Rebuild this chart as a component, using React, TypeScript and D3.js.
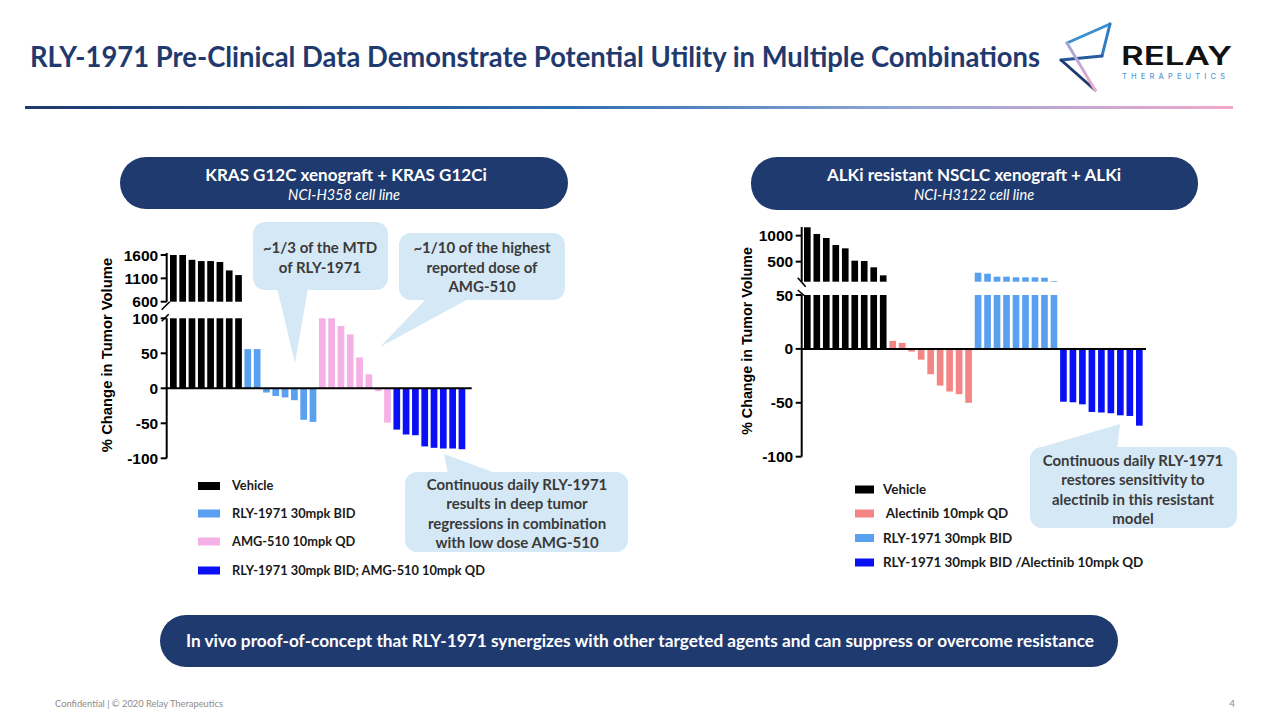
import React from 'react';
import * as d3 from 'd3';

// ---------- DATA ----------
const leftGroups = ['Vehicle', 'RLY-1971 30mpk BID', 'AMG-510 10mpk QD', 'RLY-1971 30mpk BID; AMG-510 10mpk QD'];
const leftVehicle = [1600, 1600, 1497, 1470, 1470, 1450, 1270, 1170];
const leftRly = [56, 56, -6, -11, -13, -17, -45, -48];
const leftAmg = [100, 100, 89, 77, 44, 20, -4, -49];
const leftCombo = [-59, -66, -67, -83, -85, -86, -86, -87];
const leftLowerTicks = [-100, -50, 0, 50, 100];
const leftUpperTicks = [600, 1100, 1600];

const rightGroups = ['Vehicle', ' Alectinib 10mpk QD', 'RLY-1971 30mpk BID', 'RLY-1971 30mpk BID /Alectinib 10mpk QD'];
const rightVehicle = [1160, 1032, 955, 820, 756, 519, 513, 391, 237];
const rightAlectinib = [7.4, 5.6, -2.5, -10, -23.5, -34, -39.5, -42, -50];
const rightRly = [288, 269, 212, 212, 199, 199, 199, 192, 128];
const rightCombo = [-49, -49.5, -51.4, -58.5, -59, -59.7, -61.6, -62.2, -71.2];
const rightLowerTicks = [-100, -50, 0, 50];
const rightUpperTicks = [500, 1000];

const leftColors = ['#000000', '#5AA0F0', '#F5B0E6', '#0A10F5'];
const rightColors = ['#000000', '#F48585', '#5AA0F0', '#0A10F5'];

const NAVY = '#1F3A6E';
const BUBBLE = '#D5E8F6';
const AXIS_FONT = '"Liberation Sans", Arial, sans-serif';
const TEXT_FONT = 'Lato, "Open Sans", sans-serif';

type ChartProps = {
  series: number[][];
  colors: string[];
  xRange: [number, number];
  padding: number;
  axisX: number;
  zeroEnd: number;
  lowerDomain: [number, number];
  lowerRange: [number, number];
  upperDomain: [number, number];
  upperRange: [number, number];
  upperTop: number;
  lowerTicks: number[];
  upperTicks: number[];
  breakDir: 1 | -1;
};

function BrokenChart(p: ChartProps) {
  const bars: { v: number; c: string }[] = [];
  p.series.forEach((s, i) => s.forEach((v) => bars.push({ v, c: p.colors[i] })));
  const x = d3.scaleBand<number>().domain(d3.range(bars.length)).range(p.xRange).padding(p.padding);
  const yL = d3.scaleLinear().domain(p.lowerDomain).range(p.lowerRange);
  const yU = d3.scaleLinear().domain(p.upperDomain).range(p.upperRange);
  const [lo, hi] = p.lowerDomain;
  const [ulo, uhi] = p.upperDomain;
  const ax = p.axisX;
  const yUb = yU(ulo);
  const yLt = yL(hi);
  const d = p.breakDir;
  return (
    <g>
      {bars.map((b, i) => {
        const vc = Math.max(lo, Math.min(hi, b.v));
        const y0 = yL(0);
        const y1 = yL(vc);
        const els = [
          <rect key={'l' + i} x={x(i)} width={x.bandwidth()} y={Math.min(y0, y1)} height={Math.abs(y1 - y0)} fill={b.c} />,
        ];
        if (b.v > ulo) {
          const yt = yU(Math.min(b.v, uhi));
          els.push(<rect key={'u' + i} x={x(i)} width={x.bandwidth()} y={yt} height={yUb - yt} fill={b.c} />);
        }
        return els;
      })}
      <line x1={ax} x2={ax} y1={p.upperTop} y2={yUb} stroke="#000" strokeWidth={2} />
      <line x1={ax} x2={ax} y1={yLt} y2={yL(lo)} stroke="#000" strokeWidth={2} />
      <line x1={ax - 1} x2={p.zeroEnd} y1={yL(0)} y2={yL(0)} stroke="#000" strokeWidth={2} />
      {d === 1 ? (
        <g stroke="#000" strokeWidth={1.6}>
          <line x1={ax - 5} y1={yUb + 8} x2={ax + 3} y2={yUb} />
          <line x1={ax - 5} y1={yLt + 3} x2={ax + 2} y2={yLt - 4} />
        </g>
      ) : (
        <g stroke="#000" strokeWidth={1.6}>
          <line x1={ax - 4} y1={yUb - 4} x2={ax + 4} y2={yUb + 5} />
          <line x1={ax - 4} y1={yLt - 5} x2={ax + 3} y2={yLt + 1} />
        </g>
      )}
      {p.lowerTicks.map((t) => (
        <g key={'lt' + t}>
          <line x1={ax - 6} x2={ax} y1={yL(t)} y2={yL(t)} stroke="#000" strokeWidth={2} />
          <text x={ax - 8.5} y={yL(t)} dy="0.36em" textAnchor="end" fontFamily={AXIS_FONT} fontWeight="bold" fontSize={15.5}>
            {t}
          </text>
        </g>
      ))}
      {p.upperTicks.map((t) => (
        <g key={'ut' + t}>
          <line x1={ax - 6} x2={ax} y1={yU(t)} y2={yU(t)} stroke="#000" strokeWidth={2} />
          <text x={ax - 8.5} y={yU(t)} dy="0.36em" textAnchor="end" fontFamily={AXIS_FONT} fontWeight="bold" fontSize={15.5}>
            {t}
          </text>
        </g>
      ))}
    </g>
  );
}

function Bubble(props: { x: number; y: number; w: number; h: number; tail: [number, number][]; lines: string[]; cx: number; ys: number[] }) {
  return (
    <g>
      <rect x={props.x} y={props.y} width={props.w} height={props.h} rx={12} fill={BUBBLE} />
      <polygon points={props.tail.map((q) => q.join(',')).join(' ')} fill={BUBBLE} />
      {props.lines.map((l, i) => (
        <text key={i} x={props.cx} y={props.ys[i]} dy="0.35em" textAnchor="middle" fontFamily={TEXT_FONT} fontWeight="bold" fontSize={15} fill="#3A3A3A">
          {l}
        </text>
      ))}
    </g>
  );
}

function Legend(props: { labels: string[]; colors: string[]; sx: number; sw: number; tx: number; ys: number[]; fs: number }) {
  return (
    <g>
      {props.labels.map((l, i) => (
        <g key={i}>
          <rect x={props.sx} y={props.ys[i] - 4} width={props.sw} height={8} fill={props.colors[i]} />
          <text x={props.tx} y={props.ys[i]} dy="0.35em" fontFamily={TEXT_FONT} fontWeight="bold" fontSize={props.fs} fill="#1A1A1A" style={{ whiteSpace: 'pre' }}>
            {l}
          </text>
        </g>
      ))}
    </g>
  );
}

export default function App() {
  return (
    <svg width={1280} height={720} viewBox="0 0 1280 720" style={{ position: 'absolute', left: 0, top: 0, display: 'block', background: '#fff' }}>
      <defs>
        <linearGradient id="rule" x1="0" x2="1" y1="0" y2="0">
          <stop offset="0" stopColor="#1F3A6E" />
          <stop offset="0.45" stopColor="#2E6FB0" />
          <stop offset="0.72" stopColor="#8FA6D6" />
          <stop offset="1" stopColor="#F2A8CB" />
        </linearGradient>
        <linearGradient id="lg1" x1="0" x2="0" y1="0" y2="1">
          <stop offset="0" stopColor="#9FA8DA" />
          <stop offset="1" stopColor="#F4A9CC" />
        </linearGradient>
      </defs>

      <text x={30} y={67} fontFamily={TEXT_FONT} fontWeight="bold" fontSize={28} fill={NAVY} textLength={1010} lengthAdjust="spacingAndGlyphs">
        RLY-1971 Pre-Clinical Data Demonstrate Potential Utility in Multiple Combinations
      </text>
      <rect x={25} y={106} width={1208} height={3} fill="url(#rule)" />

      <g fill="none" strokeWidth={3} strokeLinecap="round" strokeLinejoin="round">
        <path d="M1110,24 L1067,43" stroke="#3A8FD0" />
        <path d="M1110,24 L1102,56" stroke="#2F7EC4" />
        <path d="M1102,56 L1061,60" stroke="#2A5A9E" />
        <path d="M1061,60 L1095,90" stroke="#1F3A6E" />
        <path d="M1067,43 L1095,90" stroke="url(#lg1)" />
      </g>
      <text x={1121} y={65} fontFamily="Inter, sans-serif" fontWeight={600} fontSize={26} fill="#111" textLength={111} lengthAdjust="spacingAndGlyphs">
        RELAY
      </text>
      <text x={1122} y={78.5} fontFamily="Inter, sans-serif" fontWeight={500} fontSize={7.5} fill="#5A9BD5" textLength={103} lengthAdjust="spacing">
        THERAPEUTICS
      </text>

      <rect x={120} y={157} width={448} height={52} rx={26} fill={NAVY} />
      <text x={346} y={181} textAnchor="middle" fontFamily={TEXT_FONT} fontWeight="bold" fontSize={17} fill="#fff">
        KRAS G12C xenograft + KRAS G12Ci
      </text>
      <text x={344} y={200} textAnchor="middle" fontFamily={TEXT_FONT} fontStyle="italic" fontSize={14.5} fill="#fff">
        NCI-H358 cell line
      </text>
      <rect x={751} y={157} width={447} height={53} rx={26} fill={NAVY} />
      <text x={974} y={181} textAnchor="middle" fontFamily={TEXT_FONT} fontWeight="bold" fontSize={17} fill="#fff">
        ALKi resistant NSCLC xenograft + ALKi
      </text>
      <text x={974} y={200} textAnchor="middle" fontFamily={TEXT_FONT} fontStyle="italic" fontSize={14.5} fill="#fff">
        NCI-H3122 cell line
      </text>

      <text transform="translate(112,355) rotate(-90)" textAnchor="middle" fontFamily={AXIS_FONT} fontWeight="bold" fontSize={14.8}>
        % Change in Tumor Volume
      </text>
      <BrokenChart
        series={[leftVehicle, leftRly, leftAmg, leftCombo]}
        colors={leftColors}
        xRange={[167.4, 467.9]}
        padding={0.28}
        axisX={166.7}
        zeroEnd={471.7}
        lowerDomain={[-100, 100]}
        lowerRange={[458.3, 318.3]}
        upperDomain={[600, 1600]}
        upperRange={[301.7, 255]}
        upperTop={253}
        lowerTicks={leftLowerTicks}
        upperTicks={leftUpperTicks}
        breakDir={1}
      />

      <text transform="translate(752,341) rotate(-90)" textAnchor="middle" fontFamily={AXIS_FONT} fontWeight="bold" fontSize={14.3}>
        % Change in Tumor Volume
      </text>
      <BrokenChart
        series={[rightVehicle, rightAlectinib, rightRly, rightCombo]}
        colors={rightColors}
        xRange={[801.15, 1145.5]}
        padding={0.3}
        axisX={801.7}
        zeroEnd={1146}
        lowerDomain={[-100, 50]}
        lowerRange={[456.7, 295]}
        upperDomain={[115, 1160]}
        upperRange={[281.7, 227.3]}
        upperTop={227}
        lowerTicks={rightLowerTicks}
        upperTicks={rightUpperTicks}
        breakDir={-1}
      />

      <Bubble x={253} y={222} w={135} h={68} tail={[[277, 288], [308, 288], [295, 363]]} lines={['~1/3 of the MTD', 'of RLY-1971']} cx={320} ys={[248, 268]} />
      <Bubble x={399} y={233} w={166} h={67} tail={[[427, 298], [470, 298], [380, 347]]} lines={['~1/10 of the highest', 'reported dose of', 'AMG-510']} cx={482} ys={[248, 268, 287]} />
      <Bubble
        x={405}
        y={472}
        w={223}
        h={80}
        tail={[[448, 474], [498, 474], [444, 454]]}
        lines={['Continuous daily RLY-1971', 'results in deep tumor', 'regressions in combination', 'with low dose AMG-510']}
        cx={517}
        ys={[485, 504, 523.5, 542.5]}
      />
      <Bubble
        x={1030}
        y={447}
        w={207}
        h={81}
        tail={[[1035, 449], [1117, 449], [1120, 424]]}
        lines={['Continuous daily RLY-1971', 'restores sensitivity to', 'alectinib in this resistant', 'model']}
        cx={1133}
        ys={[460.5, 480, 499.5, 518.5]}
      />

      <Legend labels={leftGroups} colors={leftColors} sx={198} sw={22} tx={232} ys={[486, 513.5, 541.5, 570.5]} fs={12.8} />
      <Legend labels={rightGroups} colors={rightColors} sx={855} sw={19} tx={883} ys={[489.5, 513.5, 538, 562.5]} fs={13.4} />

      <rect x={160} y={615} width={958} height={52} rx={26} fill={NAVY} />
      <text x={640} y={641} dy="0.35em" textAnchor="middle" fontFamily={TEXT_FONT} fontWeight="bold" fontSize={16.5} fill="#fff" textLength={908} lengthAdjust="spacingAndGlyphs">
        In vivo proof-of-concept that RLY-1971 synergizes with other targeted agents and can suppress or overcome resistance
      </text>

      <text x={55} y={707} fontFamily={TEXT_FONT} fontSize={10} fill="#8C8C8C" textLength={168} lengthAdjust="spacingAndGlyphs">
        Confidential | © 2020 Relay Therapeutics
      </text>
      <text x={1235} y={707} textAnchor="end" fontFamily={TEXT_FONT} fontSize={10} fill="#8C8C8C">
        4
      </text>
    </svg>
  );
}
